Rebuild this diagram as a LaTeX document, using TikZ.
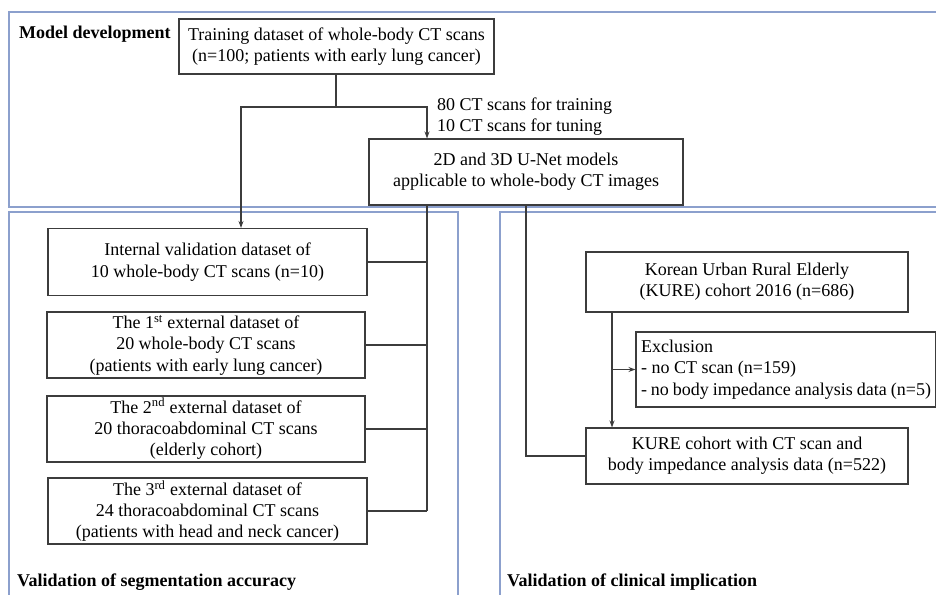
\documentclass[tikz,border=0pt]{standalone}
\usepackage{fontspec}
\setmainfont{Liberation Serif}
\usetikzlibrary{arrows.meta}
\definecolor{panelblue}{RGB}{140,160,205}
\definecolor{boxgray}{RGB}{60,60,60}
\tikzset{
  panel/.style={draw=panelblue, line width=1.3pt},
  box/.style={draw=boxgray, line width=1.1pt, align=center, inner sep=0pt,
    font=\fontsize{18}{21.3}\selectfont},
  title/.style={anchor=west, inner sep=0pt, font=\fontsize{18}{21.3}\selectfont\bfseries},
  note/.style={anchor=west, inner sep=0pt, font=\fontsize{18}{21.3}\selectfont},
  link/.style={draw=boxgray, line width=1.2pt},
  arr/.style={link, -{Stealth[length=7pt,width=5pt]}}
}
\begin{document}
\begin{tikzpicture}[x=1pt, y={(0pt,-1pt)}]
\clip (0,0) rectangle (936,594);
\fill[white] (0,0) rectangle (936,594);

% section frames
\draw[panel] (9,12) rectangle (960,207);
\draw[panel] (9,212) rectangle (458,620);
\draw[panel] (500,212) rectangle (960,620);

% section titles
\node[title] (tdev) at (19,34) {Model development};
\node[title] (tseg) at (17,582) {Validation of segmentation accuracy};
\node[title] (tcli) at (507,582) {Validation of clinical implication};

% model development
\node[box, minimum width=315pt, minimum height=55pt] (train) at (336.5,46.5)
  {Training dataset of whole-body CT scans\\(n=100; patients with early lung cancer)};
\node[box, minimum width=314pt, minimum height=66pt] (unet) at (526,172)
  {2D and 3D U-Net models\\applicable to whole-body CT images};
\node[note] (ntrain) at (437,106) {80 CT scans for training};
\node[note] (ntune) at (437,127) {10 CT scans for tuning};

% segmentation accuracy
\node[box, minimum width=319pt, minimum height=67pt] (int) at (207.5,262)
  {Internal validation dataset of\\10 whole-body CT scans (n=10)};
\node[box, minimum width=318pt, minimum height=66pt] (ext1) at (206,345)
  {The 1\textsuperscript{st} external dataset of\\20 whole-body CT scans\\(patients with early lung cancer)};
\node[box, minimum width=318pt, minimum height=66pt] (ext2) at (206,429)
  {The 2\textsuperscript{nd} external dataset of\\20 thoracoabdominal CT scans\\(elderly cohort)};
\node[box, minimum width=319pt, minimum height=66pt] (ext3) at (207.5,511)
  {The 3\textsuperscript{rd} external dataset of\\24 thoracoabdominal CT scans\\(patients with head and neck cancer)};

% clinical implication
\node[box, minimum width=322pt, minimum height=60pt] (kure) at (747,282)
  {Korean Urban Rural Elderly\\(KURE) cohort 2016 (n=686)};
\node[box, minimum width=300pt, minimum height=75pt, align=flush left, text width=290pt] (excl) at (786,369.5)
  {Exclusion\\- no CT scan (n=159)\\- no body impedance analysis data (n=5)};
\node[box, minimum width=322pt, minimum height=56pt] (final) at (747,456)
  {KURE cohort with CT scan and\\body impedance analysis data (n=522)};

% routing points
\coordinate (split) at (336,107);
\coordinate (busL) at (427,0);
\coordinate (busI) at (241,0);
\coordinate (busK) at (612,0);

% training split
\draw[link] (train.south -| split) -- (split);
\draw[arr] (split) -| (int.north -| busI);
\draw[arr] (split) -| (unet.north -| busL);

% models to validation datasets
\draw[link] (unet.south -| busL) -- (ext3.east -| busL);
\draw[link] (int.east) -- (int.east -| busL);
\draw[link] (ext1.east) -- (ext1.east -| busL);
\draw[link] (ext2.east) -- (ext2.east -| busL);
\draw[link] (ext3.east) -- (ext3.east -| busL);

% models to clinical cohort
\draw[link] (unet.south) |- (final.west);

% cohort flow
\draw[arr] (kure.south -| busK) -- (final.north -| busK);
\draw[arr] (excl.west -| busK) -- (excl.west);
\end{tikzpicture}
\end{document}
